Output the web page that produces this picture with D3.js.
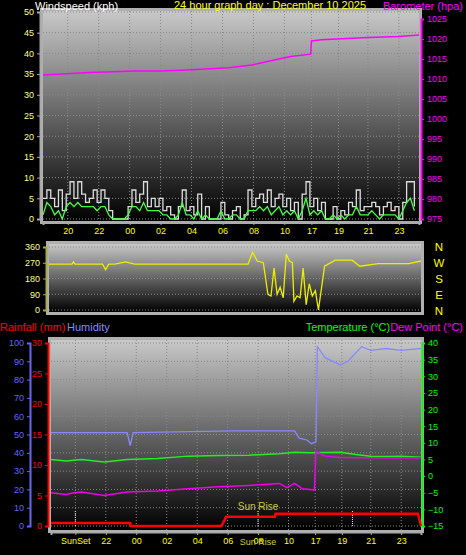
<!DOCTYPE html>
<html><head><meta charset="utf-8">
<script src="https://cdn.jsdelivr.net/npm/d3@7"></script>
<style>body{margin:0;background:#000}svg{display:block}text{font-family:"Liberation Sans",Arial,sans-serif}</style>
</head><body>
<script>
// ---- data ----
const hourLabels = ["20","22","00","02","04","06","08","10","17","19","21","23"];
const hourPos = [1.6,3.6,5.6,7.6,9.6,11.6,13.6,15.6,17.35,19.1,21.0,23.0];
const bottomLabels = ["SunSet","22","00","02","04","06","08","10","17","19","21","23"];
const bottomPos = [1.6,3.6,5.6,7.6,9.6,11.6,13.6,15.6,17.35,19.1,21.0,23.0];
const sunLines = [1.6,13.6,19.8];
const windTicks = [0,5,10,15,20,25,30,35,40,45,50];
const baroTicks = [975,980,985,990,995,1000,1005,1010,1015,1020,1025];
// gusts every 0.25h
const gust = [5,7,5,3,7,2,6,9,5,9,6,4,5,7,4,7,5,2,0,0,0,0,3,7,4,6,9,3,5,3,5,2,3,1,0,3,7,2,3,1,6,0,3,0,0,0,4,1,0,2,3,0,1,7,3,5,6,4,7,3,5,6,3,5,2,4,0,6,9,3,5,2,4,0,0,3,0,2,1,4,3,7,2,3,3,4,3,1,3,4,2,3,0,4,9,9,3];
const avg = [1,4,3,1,2,0,3,4,3,4,3,3,3,3,2,3,3,1,0,0,0,0,1,3,3,2,4,2,2,2,2,1,1,0,0,1,4,1,1,0,2,0,1,0,0,0,2,0,0,1,1,0,0,2,2,2,3,2,3,1,2,3,1,2,1,2,0,2,5,1,2,1,2,0,0,1,0,1,0,1,1,3,1,1,1,2,1,0,1,1,1,1,0,2,4,5,2];
const baroT = [0,1.5,3,4.5,6,7.5,9,10.5,12,13.5,15,16,17.3,17.35,18,19,20,21,22,23,24.3];
const baroV = [1011,1011.3,1011.6,1011.8,1012,1012,1012.2,1012.5,1012.8,1013.5,1014.8,1015.6,1016.2,1019.5,1019.8,1020,1020.2,1020.4,1020.5,1020.6,1021];
const dirTicks = [0,90,180,270,360];
const dirT = [0,1.5,1.6,1.7,3.5,3.7,3.9,4.1,4.3,5,5.6,5.7,13,13.3,13.6,14,14.3,14.5,14.7,14.9,15.1,15.3,15.5,15.7,15.9,16,16.2,16.4,16.6,16.8,17,17.2,17.4,17.6,18,18.7,19.8,20.3,21.5,23.5,24.3];
const dirV = [262,262,275,262,262,230,262,262,262,275,262,262,262,330,280,270,90,80,240,90,130,70,320,280,270,50,80,70,240,30,150,80,110,0,250,285,285,250,265,265,280];
const humT = [0,5,5.2,5.4,12,16,16.3,16.8,17.1,17.4,17.5,18,19,19.5,20.4,21,22,23,24.3];
const humV = [51,51,44,51,52,52,48,47,45,46,98,92,88,90,98,96,97,96,97];
const tempT = [0,1,2,3.5,5,7,9,11,13,14,15,16,17,19,20,21,22,23,24.3];
const tempV = [5,4.5,5,4.2,5,5.3,6,6.2,6.3,6.5,6.7,7.2,7,7.2,6.5,6,5.9,6,5.7];
const dewT = [0,1,1.5,2,3.5,5,7,9,11,13,14,15,15.5,16,16.5,17,17.3,17.4,18,19,21,23,24.3];
const dewV = [-5,-5.5,-5,-4.8,-5.8,-4.8,-4.5,-3.8,-3.2,-2.8,-2.5,-2.2,-3.5,-2.2,-3.8,-4,-4.2,7.5,6,5.6,5.5,5.4,5.5];
const rainT = [0,5.2,5.25,11.2,11.5,14.7,14.75,24.1,24.3];
const rainV = [0.5,0.5,0,0,1.5,1.5,2,2,0];
const humTicks = [0,10,20,30,40,50,60,70,80,90,100];
const rainTicks = [0,5,10,15,20,25,30];
const tempTicks = [-15,-10,-5,0,5,10,15,20,25,30,35,40];

const W=466,H=555;
const svg=d3.select("body").append("svg").attr("width",W).attr("height",H);
const defs=svg.append("defs");
const g=defs.append("linearGradient").attr("id","bg").attr("x1",0).attr("y1",0).attr("x2",0).attr("y2",1);
g.append("stop").attr("offset","0%").attr("stop-color","#c8c8c8");
g.append("stop").attr("offset","100%").attr("stop-color","#000");

function panel(x0,x1,y0,y1,yScale,ticks){
  svg.append("rect").attr("x",x0-3).attr("y",y0-3).attr("width",x1-x0+6).attr("height",y1-y0+6).attr("fill","#b0b0b0");
  svg.append("rect").attr("x",x0).attr("y",y0).attr("width",x1-x0).attr("height",y1-y0).attr("fill","url(#bg)");
  ticks.forEach(t=>svg.append("line").attr("x1",x0).attr("x2",x1).attr("y1",yScale(t)).attr("y2",yScale(t)).attr("stroke","#888").attr("stroke-dasharray","1,2"));
}
function vgrid(x,pos,y0,y1){pos.forEach(p=>svg.append("line").attr("x1",x(p)).attr("x2",x(p)).attr("y1",y0).attr("y2",y1).attr("stroke","#888").attr("stroke-dasharray","1,2"));}
function txt(x,y,s,c,size,anchor){return svg.append("text").attr("x",x).attr("y",y).text(s).attr("fill",c).attr("font-size",size).attr("text-anchor",anchor||"start");}
function leftAxis(scale,ticks,x,color,fmt){
  const a=svg.append("g").attr("transform",`translate(${x},0)`).call(d3.axisLeft(scale).tickValues(ticks).tickSize(3).tickFormat(fmt||d3.format("d")));
  a.select(".domain").attr("stroke",color).attr("stroke-width",2);
  a.selectAll("line").attr("stroke",color);
  a.selectAll("text").attr("fill",color).attr("font-size",9).attr("font-family","Liberation Sans");
  return a;
}
function rightAxis(scale,ticks,x,color){
  const a=svg.append("g").attr("transform",`translate(${x},0)`).call(d3.axisRight(scale).tickValues(ticks).tickSize(3).tickFormat(d3.format("d")));
  a.select(".domain").attr("stroke",color).attr("stroke-width",2);
  a.selectAll("line").attr("stroke",color);
  a.selectAll("text").attr("fill",color).attr("font-size",9).attr("font-family","Liberation Sans");
}
function bottomAxis(x,pos,labels,y){
  const a=svg.append("g").attr("transform",`translate(0,${y})`).call(d3.axisBottom(x).tickValues(pos).tickSize(3).tickFormat((d,i)=>labels[i]));
  a.select(".domain").attr("stroke","#aaa").attr("stroke-width",2);
  a.selectAll("line").attr("stroke","#aaa");
  a.selectAll("text").attr("fill","#ff0").attr("font-size",9).attr("font-family","Liberation Sans");
}
const line=(x,y)=>d3.line().x(d=>x(d[0])).y(d=>y(d[1]));
const stepLine=(x,y)=>d3.line().curve(d3.curveStepAfter).x(d=>x(d[0])).y(d=>y(d[1]));

// ---- top panel ----
const x1=d3.scaleLinear().domain([0,24.3]).range([43,419]);
const yW=d3.scaleLinear().domain([0,50]).range([219,12]);
const yB=d3.scaleLinear().domain([975,1025]).range([219,19]);
panel(43,419,11,221,yW,windTicks);
vgrid(x1,hourPos,11,221);
leftAxis(yW,windTicks,40,"#aaa").selectAll("text").attr("fill","#ff8");
rightAxis(yB,baroTicks,421,"#f0f");
bottomAxis(x1,hourPos,hourLabels,222);
const gd=gust.map((v,i)=>[i*0.25,v]), ad=avg.map((v,i)=>[i*0.25,v]);
svg.append("path").attr("d",stepLine(x1,yW)(gd)).attr("fill","none").attr("stroke","#ddd").attr("stroke-width",1.3);
svg.append("path").attr("d",line(x1,yW)(ad)).attr("fill","none").attr("stroke","#4f4").attr("stroke-width",1.3);
svg.append("path").attr("d",line(x1,yB)(baroT.map((t,i)=>[t,baroV[i]]))).attr("fill","none").attr("stroke","#f0f").attr("stroke-width",1.5);
txt(35,10,"Windspeed (kph)","#fff",11);
txt(270,9,"24 hour graph day : December 10 2025","#ff0",11,"middle");
txt(463,10,"Barometer (hpa)","#f0f",11,"end");

// ---- middle panel ----
const x2=d3.scaleLinear().domain([0,24.3]).range([49,421]);
const yD=d3.scaleLinear().domain([0,360]).range([310,247]);
panel(49,421,244,312,yD,dirTicks);
leftAxis(yD,dirTicks,46,"#aa4").selectAll("text").attr("fill","#ff8");
svg.append("path").attr("d",line(x2,yD)(dirT.map((t,i)=>[t,dirV[i]]))).attr("fill","none").attr("stroke","#ee0").attr("stroke-width",1.3);
["N","W","S","E","N"].forEach((s,i)=>txt(439,[251,267,283,299,315][i],s,"#ff0",11.5,"middle"));

// ---- bottom panel ----
const x3=d3.scaleLinear().domain([0,24.3]).range([51,421]);
const yH=d3.scaleLinear().domain([0,100]).range([526,343]);
const yR=d3.scaleLinear().domain([0,30]).range([526,343]);
const yT=d3.scaleLinear().domain([-15,40]).range([526,343]);
panel(51,421,340,530,yH,humTicks);
vgrid(x3,bottomPos,340,530);
leftAxis(yH,humTicks,30,"#66f");
leftAxis(yR,rainTicks,48,"#f00");
rightAxis(yT,tempTicks,422,"#0f0");
bottomAxis(x3,bottomPos,bottomLabels,532);
sunLines.forEach(t=>svg.append("line").attr("x1",x3(t)).attr("x2",x3(t)).attr("y1",511).attr("y2",527).attr("stroke","#ff0").attr("stroke-dasharray","1,1"));
txt(x3(13.6),510,"Sun Rise","#cc4",10,"middle");
txt(x3(13.6),545,"Sun Rise","#cc4",9,"middle");
const P=(T,V)=>T.map((t,i)=>[t,V[i]]);
svg.append("path").attr("d",line(x3,yH)(P(humT,humV))).attr("fill","none").attr("stroke","#88f").attr("stroke-width",1.3);
svg.append("path").attr("d",line(x3,yT)(P(tempT,tempV))).attr("fill","none").attr("stroke","#2e2").attr("stroke-width",1.5);
svg.append("path").attr("d",line(x3,yT)(P(dewT,dewV))).attr("fill","none").attr("stroke","#e0e").attr("stroke-width",1.5);
svg.append("path").attr("d",line(x3,yR)(P(rainT,rainV))).attr("fill","none").attr("stroke","#f00").attr("stroke-width",2.5);
txt(0,331,"Rainfall (mm)","#f00",11);
txt(67,331,"Humidity","#88f",11);
const tt=svg.append("text").attr("x",463).attr("y",331).attr("text-anchor","end").attr("font-size",11);
tt.append("tspan").attr("fill","#0f0").text("Temperature (°C)");
tt.append("tspan").attr("fill","#f0f").text("Dew Point (°C)");
</script>
</body></html>
